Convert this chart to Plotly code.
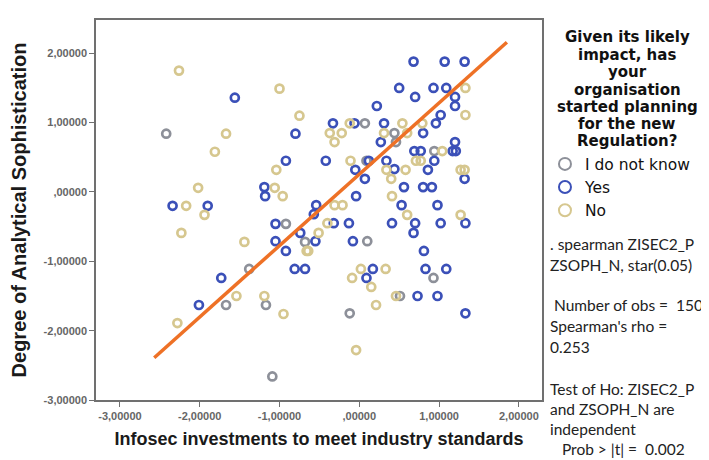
import plotly.graph_objects as go

# ---------------- data ----------------
yes_x = [-1.56, -0.80, -0.92, -1.19, -1.18, -2.34, -1.90, -1.05, -0.74, -1.05,
         -0.92, -0.81, -0.68, -1.73, -2.01, 0.68, 1.07, 1.32, 0.50, 0.93,
         1.09, 0.70, 1.20, 1.20, 0.22, 1.02, -0.33, -0.06, 0.31, 0.96,
         0.80, 0.27, 1.20, 0.69, 0.77, 1.17, 1.21, -0.42, 0.12, 0.34,
         0.94, -0.05, 0.44, 0.86, 0.07, 1.32, 0.56, 0.80, 0.91, -0.04,
         -0.54, 0.53, 0.98, -0.57, -0.32, -0.13, 0.41, 0.70, 1.02, 1.33,
         0.68, -0.55, -0.08, 0.81, 0.17, 0.83, 1.09, 0.09, 0.73, 0.98,
         1.33]
yes_y = [1.36, 0.84, 0.45, 0.07, -0.06, -0.20, -0.20, -0.46, -0.59, -0.71,
         -0.85, -1.11, -1.11, -1.24, -1.63, 1.88, 1.88, 1.88, 1.50, 1.50,
         1.50, 1.37, 1.37, 1.24, 1.24, 1.11, 0.99, 0.99, 0.99, 0.99,
         0.85, 0.72, 0.72, 0.59, 0.59, 0.59, 0.59, 0.45, 0.45, 0.45,
         0.45, 0.32, 0.33, 0.32, 0.19, 0.19, 0.07, 0.07, 0.07, -0.06,
         -0.19, -0.19, -0.19, -0.32, -0.45, -0.45, -0.45, -0.45, -0.45, -0.45,
         -0.59, -0.71, -0.71, -0.85, -1.11, -1.11, -1.11, -1.24, -1.50, -1.50,
         -1.75]

no_x = [-2.26, -1.00, -0.75, -1.67, -1.81, -1.04, -2.02, -1.06, -0.96, -2.17,
        -1.94, -2.23, -1.44, -0.66, -1.54, -1.19, -0.95, -2.28, 1.33, 1.33,
        -0.12, 0.54, 0.79, -0.37, -0.22, 0.31, 0.60, -0.31, 1.04, -0.11,
        0.71, 0.77, 0.34, 0.58, 1.27, 1.32, 0.40, 0.41, -0.31, -0.21,
        0.60, 1.27, -0.40, -0.51, -0.64, 0.02, 0.33, -0.09, 0.15, 0.46,
        0.21, -0.04]
no_y = [1.75, 1.49, 1.10, 0.84, 0.58, 0.32, 0.06, 0.06, -0.06, -0.20,
        -0.33, -0.59, -0.72, -0.85, -1.50, -1.50, -1.76, -1.89, 1.50, 1.11,
        0.99, 0.99, 0.99, 0.85, 0.85, 0.85, 0.85, 0.72, 0.59, 0.45,
        0.45, 0.45, 0.32, 0.32, 0.32, 0.32, 0.19, -0.06, -0.19, -0.19,
        -0.33, -0.33, -0.45, -0.59, -0.85, -1.11, -1.11, -1.24, -1.37, -1.50,
        -1.63, -2.28]

dk_x = [-2.42, -0.92, -0.68, -1.38, -1.67, -1.17, -1.09, 0.07, 0.44, 0.46,
        0.94, 0.09, 0.10, 0.93, 0.51, -0.12]
dk_y = [0.84, -0.46, -0.72, -1.11, -1.63, -1.63, -2.66, 0.99, 0.85, 0.72,
        0.59, 0.45, -0.71, -1.24, -1.50, -1.75]

fit_x = [-2.57, 1.85]
fit_y = [-2.39, 2.16]

tick_vals = [-3, -2, -1, 0, 1, 2]
tick_text = ["-3,00000", "-2,00000", "-1,00000", ",00000", "1,00000", "2,00000"]

legend_title_lines = ["Given its likely", "impact, has", "your", "organisation",
                      "started planning", "for the new", "Regulation?"]
stata_lines = [". spearman ZISEC2_P", "ZSOPH_N, star(0.05)",
               " Number of obs =  150", "Spearman's rho =", "0.253",
               "Test of Ho: ZISEC2_P", "and ZSOPH_N are", "independent",
               "   Prob > |t| =  0.002"]

# ---------------- styling ----------------
OFF = 8                      # page body margin offset
W, H = 709 - OFF, 460 - OFF
L, R, T, B = 85, 167, 10, 60
BLUE = "#3B50B8"
TAN = "#D6C78F"
GREY = "#8D9099"
ORANGE = "#EE7126"
AXC = "#707070"

fig = go.Figure()

def mk(c):
    return dict(symbol="circle-open", size=8, color=c, line=dict(width=2.7, color=c))

fig.add_trace(go.Scatter(x=dk_x, y=dk_y, mode="markers", name="I do not know", marker=mk(GREY)))
fig.add_trace(go.Scatter(x=yes_x, y=yes_y, mode="markers", name="Yes", marker=mk(BLUE)))
fig.add_trace(go.Scatter(x=no_x, y=no_y, mode="markers", name="No", marker=mk(TAN)))
fig.add_trace(go.Scatter(x=fit_x, y=fit_y, mode="lines", showlegend=False,
                         line=dict(color=ORANGE, width=3.5)))

axis_common = dict(showline=True, linecolor=AXC, linewidth=1.5, mirror=True,
                   ticks="outside", ticklen=5, tickwidth=1.2, tickcolor=AXC,
                   showgrid=False, zeroline=False,
                   tickvals=tick_vals, ticktext=tick_text,
                   tickfont=dict(family="Liberation Sans", size=11, color="#666666", weight="bold"))

fig.update_xaxes(range=[-3.3, 2.29],
                 title=dict(text="Infosec investments to meet industry standards",
                            font=dict(family="Liberation Sans", size=18, color="#1a1a1a", weight="bold"),
                            standoff=11),
                 **axis_common)
fig.update_yaxes(range=[-3.0, 2.48],
                 title=dict(text="Degree of Analytical Sophistication",
                            font=dict(family="Liberation Sans", size=20, color="#1a1a1a", weight="bold"),
                            standoff=12),
                 **axis_common)

pw = W - L - R
ph = H - T - B

def px2x(page_px):
    return (page_px - OFF - L) / pw

def px2y(page_py):
    return (H - B - (page_py - OFF)) / ph

annotations = []
title_y = [35, 53, 70, 88, 105, 123, 140]
for txt, yy in zip(legend_title_lines, title_y):
    annotations.append(dict(xref="paper", yref="paper", x=px2x(628), y=px2y(yy),
                            text=txt, showarrow=False, xanchor="center", yanchor="middle",
                            font=dict(family="DejaVu Sans", size=15, color="#111111", weight="bold")))
stata_y = [243, 264, 305, 326, 347, 389, 409, 429, 449]
for txt, yy in zip(stata_lines, stata_y):
    annotations.append(dict(xref="paper", yref="paper", x=px2x(548), y=px2y(yy),
                            text=txt.replace(" ", "&nbsp;"), showarrow=False, xanchor="left", yanchor="middle",
                            font=dict(family="Lato", size=15.5, color="#222222")))

fig.update_layout(
    width=W, height=H,
    margin=dict(l=L, r=R, t=T, b=B),
    paper_bgcolor="white", plot_bgcolor="white",
    showlegend=True,
    legend=dict(x=px2x(545), y=px2y(146), xanchor="left", yanchor="top",
                font=dict(family="DejaVu Sans", size=15.5, color="#111111"),
                itemsizing="constant", bgcolor="rgba(0,0,0,0)", tracegroupgap=0),
    annotations=annotations,
)

fig.write_html("out.html")
